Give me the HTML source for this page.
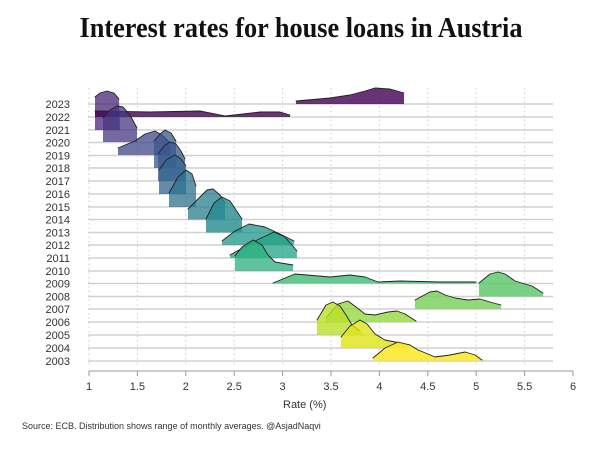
<!DOCTYPE html>
<html><head><meta charset="utf-8"><style>
body{margin:0;background:#fff}
svg{display:block}
text{font-family:"Liberation Sans",sans-serif;fill:#333}
</style></head><body>
<svg width="600" height="450" viewBox="0 0 600 450">
<rect width="600" height="450" fill="#fff"/>
<text x="301" y="37" text-anchor="middle" textLength="443" lengthAdjust="spacingAndGlyphs" style="font-family:'Liberation Serif',serif;font-weight:bold;font-size:29px;fill:#111">Interest rates for house loans in Austria</text>
<g stroke="#ccc" stroke-dasharray="1.5,3" stroke-width="1">
<line x1="89" y1="88" x2="89" y2="366"/><line x1="137.4" y1="88" x2="137.4" y2="366"/><line x1="185.8" y1="88" x2="185.8" y2="366"/><line x1="234.2" y1="88" x2="234.2" y2="366"/><line x1="282.6" y1="88" x2="282.6" y2="366"/><line x1="331" y1="88" x2="331" y2="366"/><line x1="379.4" y1="88" x2="379.4" y2="366"/><line x1="427.8" y1="88" x2="427.8" y2="366"/><line x1="476.2" y1="88" x2="476.2" y2="366"/><line x1="524.6" y1="88" x2="524.6" y2="366"/>
</g>
<g stroke="#d0d0d0" stroke-width="1.5">
<line x1="88" x2="553" y1="104" y2="104"/><line x1="88" x2="553" y1="117" y2="117"/><line x1="88" x2="553" y1="130" y2="130"/><line x1="88" x2="553" y1="142.5" y2="142.5"/><line x1="88" x2="553" y1="155.5" y2="155.5"/><line x1="88" x2="553" y1="168" y2="168"/><line x1="88" x2="553" y1="181" y2="181"/><line x1="88" x2="553" y1="194" y2="194"/><line x1="88" x2="553" y1="207" y2="207"/><line x1="88" x2="553" y1="219.5" y2="219.5"/><line x1="88" x2="553" y1="232.5" y2="232.5"/><line x1="88" x2="553" y1="245" y2="245"/><line x1="88" x2="553" y1="258" y2="258"/><line x1="88" x2="553" y1="271" y2="271"/><line x1="88" x2="553" y1="283.5" y2="283.5"/><line x1="88" x2="553" y1="296.5" y2="296.5"/><line x1="88" x2="553" y1="309" y2="309"/><line x1="88" x2="553" y1="322" y2="322"/><line x1="88" x2="553" y1="335" y2="335"/><line x1="88" x2="553" y1="348" y2="348"/><line x1="88" x2="553" y1="361" y2="361"/>
</g>
<g font-size="11" text-anchor="end">
<text x="70" y="108">2023</text><text x="70" y="121">2022</text><text x="70" y="134">2021</text><text x="70" y="146.5">2020</text><text x="70" y="159.5">2019</text><text x="70" y="172">2018</text><text x="70" y="185">2017</text><text x="70" y="198">2016</text><text x="70" y="211">2015</text><text x="70" y="223.5">2014</text><text x="70" y="236.5">2013</text><text x="70" y="249">2012</text><text x="70" y="262">2011</text><text x="70" y="275">2010</text><text x="70" y="287.5">2009</text><text x="70" y="300.5">2008</text><text x="70" y="313">2007</text><text x="70" y="326">2006</text><text x="70" y="339">2005</text><text x="70" y="352">2004</text><text x="70" y="365">2003</text>
</g>
<g stroke-linejoin="round" stroke-linecap="round">
<path d="M296,104 L296,101 330,98 350,95 365,91 375,88 390,89 404,93 L404,104Z" fill="#440154" fill-opacity="0.8"/>
<path d="M296,101 330,98 350,95 365,91 375,88 390,89 404,93" fill="none" stroke="#222" stroke-width="0.9"/>
<path d="M95,130 L95,97 100,93 107,91 114,93 119,99 L120,130Z" fill="#482576" fill-opacity="0.75"/>
<path d="M95,117 L95,111 150,112 200,111 225,116 260,112 280,112 290,115 L290,117Z" fill="#440154" fill-opacity="0.8"/>
<path d="M95,111 150,112 200,111 225,116 260,112 280,112 290,115" fill="none" stroke="#222" stroke-width="0.9"/>
<path d="M95,97 100,93 107,91 114,93 119,99" fill="none" stroke="#222" stroke-width="0.9"/>
<path d="M103,142 L103,118 110,110 117,106 123,107 130,115 137,128 L137,142Z" fill="#453781" fill-opacity="0.75"/>
<path d="M103,118 110,110 117,106 123,107 130,115 137,128" fill="none" stroke="#222" stroke-width="0.9"/>
<path d="M118,155 L118,148 135,141 145,134 155,131 162,135 170,143 L170,155Z" fill="#3f4788" fill-opacity="0.75"/>
<path d="M118,148 135,141 145,134 155,131 162,135 170,143" fill="none" stroke="#222" stroke-width="0.9"/>
<path d="M154,168 L154,141 160,134 165,130 171,133 176,141 L176,168Z" fill="#39558c" fill-opacity="0.75"/>
<path d="M154,141 160,134 165,130 171,133 176,141" fill="none" stroke="#222" stroke-width="0.9"/>
<path d="M158,181 L158,154 164,146 170,142 176,144 181,151 185,159 L185,181Z" fill="#39558c" fill-opacity="0.75"/>
<path d="M158,154 164,146 170,142 176,144 181,151 185,159" fill="none" stroke="#222" stroke-width="0.9"/>
<path d="M159,194 L159,170 166,160 175,155 181,159 186,166 L186,194Z" fill="#32648e" fill-opacity="0.75"/>
<path d="M159,170 166,160 175,155 181,159 186,166" fill="none" stroke="#222" stroke-width="0.9"/>
<path d="M169,207 L169,193 178,177 186,170 192,174 196,186 L196,207Z" fill="#2d718e" fill-opacity="0.75"/>
<path d="M169,193 178,177 186,170 192,174 196,186" fill="none" stroke="#222" stroke-width="0.9"/>
<path d="M188,219.5 L188,209 200,197 207,190 213,189 220,195 225,203 L225,219.5Z" fill="#287d8e" fill-opacity="0.75"/>
<path d="M188,209 200,197 207,190 213,189 220,195 225,203" fill="none" stroke="#222" stroke-width="0.9"/>
<path d="M206,232.5 L206,219 214,203 222,197 230,201 236,210 242,219 L242,232.5Z" fill="#238a8d" fill-opacity="0.8"/>
<path d="M206,219 214,203 222,197 230,201 236,210 242,219" fill="none" stroke="#222" stroke-width="0.9"/>
<path d="M222,245 L222,241 235,231 249,224 265,227 280,234 294,241 L294,245Z" fill="#1f968b" fill-opacity="0.75"/>
<path d="M222,241 235,231 249,224 265,227 280,234 294,241" fill="none" stroke="#222" stroke-width="0.9"/>
<path d="M230,258 L230,255 255,241 274,232 285,237 297,251 L297,258Z" fill="#20a386" fill-opacity="0.75"/>
<path d="M230,255 255,241 274,232 285,237 297,251" fill="none" stroke="#222" stroke-width="0.9"/>
<path d="M235,271 L235,256 242,247 253,240 262,245 268,255 275,262 293,265 L293,271Z" fill="#29af7f" fill-opacity="0.75"/>
<path d="M235,256 242,247 253,240 262,245 268,255 275,262 293,265" fill="none" stroke="#222" stroke-width="0.9"/>
<path d="M273,283.5 L273,283 295,274 330,277 350,275 365,277 378,282 400,281 440,282 476,282 L476,283.5Z" fill="#3dbc74" fill-opacity="0.8"/>
<path d="M273,283 295,274 330,277 350,275 365,277 378,282 400,281 440,282 476,282" fill="none" stroke="#222" stroke-width="0.9"/>
<path d="M479,296.5 L479,283 490,274 498,272 505,274 515,281 525,284 532,286 543,293 L543,296.5Z" fill="#56c667" fill-opacity="0.8"/>
<path d="M479,283 490,274 498,272 505,274 515,281 525,284 532,286 543,293" fill="none" stroke="#222" stroke-width="0.9"/>
<path d="M415,309 L415,300 430,292 437,291 445,295 455,298 468,300 480,299 490,302 501,305 L501,309Z" fill="#75d054" fill-opacity="0.8"/>
<path d="M415,300 430,292 437,291 445,295 455,298 468,300 480,299 490,302 501,305" fill="none" stroke="#222" stroke-width="0.9"/>
<path d="M326,322 L326,318 338,304 348,301 356,307 365,314 375,315 388,312 397,311 405,314 416,321 L416,322Z" fill="#95d840" fill-opacity="0.8"/>
<path d="M326,318 338,304 348,301 356,307 365,314 375,315 388,312 397,311 405,314 416,321" fill="none" stroke="#222" stroke-width="0.9"/>
<path d="M317,335 L317,320 326,305 333,302 340,306 346,315 352,325 360,331 L365,335Z" fill="#bade28" fill-opacity="0.8"/>
<path d="M317,320 326,305 333,302 340,306 346,315 352,325 360,331" fill="none" stroke="#222" stroke-width="0.9"/>
<path d="M341,348 L341,337 350,326 360,320 367,324 375,334 385,340 395,342 410,345 L410,348Z" fill="#dde318" fill-opacity="0.8"/>
<path d="M341,337 350,326 360,320 367,324 375,334 385,340 395,342 410,345" fill="none" stroke="#222" stroke-width="0.9"/>
<path d="M373,361 L373,358 385,348 398,342 410,345 418,350 428,354 435,357 450,355 465,352 475,355 482,360 L482,361Z" fill="#fde725" fill-opacity="0.85"/>
<path d="M373,358 385,348 398,342 410,345 418,350 428,354 435,357 450,355 465,352 475,355 482,360" fill="none" stroke="#222" stroke-width="0.9"/>
</g>
<line x1="89" y1="371" x2="573" y2="371" stroke="#999" stroke-width="1"/>
<g stroke="#999"><line x1="89" y1="371" x2="89" y2="376"/><line x1="137.4" y1="371" x2="137.4" y2="376"/><line x1="185.8" y1="371" x2="185.8" y2="376"/><line x1="234.2" y1="371" x2="234.2" y2="376"/><line x1="282.6" y1="371" x2="282.6" y2="376"/><line x1="331" y1="371" x2="331" y2="376"/><line x1="379.4" y1="371" x2="379.4" y2="376"/><line x1="427.8" y1="371" x2="427.8" y2="376"/><line x1="476.2" y1="371" x2="476.2" y2="376"/><line x1="524.6" y1="371" x2="524.6" y2="376"/><line x1="573" y1="371" x2="573" y2="376"/></g>
<g font-size="11" text-anchor="middle">
<text x="89" y="390">1</text><text x="137.4" y="390">1.5</text><text x="185.8" y="390">2</text><text x="234.2" y="390">2.5</text><text x="282.6" y="390">3</text><text x="331" y="390">3.5</text><text x="379.4" y="390">4</text><text x="427.8" y="390">4.5</text><text x="476.2" y="390">5</text><text x="524.6" y="390">5.5</text><text x="573" y="390">6</text>
</g>
<text x="283" y="408" font-size="11">Rate (%)</text>
<text x="22" y="429" font-size="9">Source: ECB. Distribution shows range of monthly averages. @AsjadNaqvi</text>
</svg>
</body></html>
